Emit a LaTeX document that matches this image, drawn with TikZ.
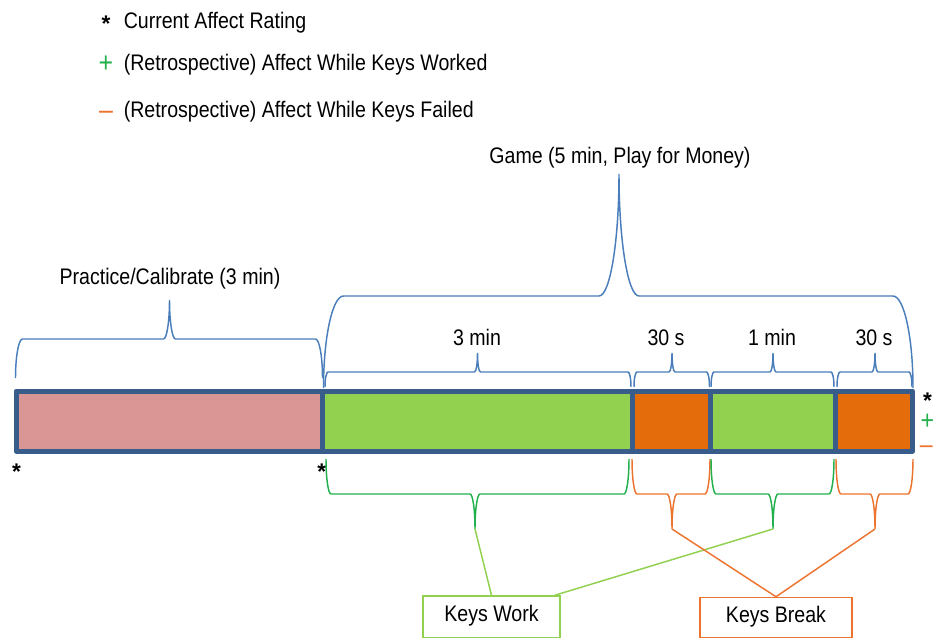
\documentclass[tikz,border=0pt]{standalone}
\usepackage{fontspec}
\setmainfont{Liberation Sans}[FakeStretch=0.87]
\newfontfamily\starfont{Liberation Sans Bold}
\usetikzlibrary{calc}
\definecolor{bracebl}{HTML}{4A7EBB}
\definecolor{barline}{HTML}{385D8A}
\definecolor{pinkc}{HTML}{D99694}
\definecolor{greenc}{HTML}{92D050}
\definecolor{orangec}{HTML}{E46C0A}
\definecolor{grn}{HTML}{22B14C}
\definecolor{org}{HTML}{EC7430}
\newcommand{\mybrace}[9]{%
  \draw[#1] (#2,#5) .. controls (#2,{#5+0.5523*(#6-#5)}) and ({#2+#8*(1-0.5523)},#6) .. ({#2+#8},#6)
   -- ({#4-#9},#6) .. controls ({#4-#9+0.5523*#9},#6) and (#4,{#7+0.5523*(#6-#7)}) .. (#4,#7)
   .. controls (#4,{#7+0.5523*(#6-#7)}) and ({#4+#9-0.5523*#9},#6) .. ({#4+#9},#6)
   -- ({#3-#8},#6) .. controls ({#3-#8+0.5523*#8},#6) and (#3,{#5+0.5523*(#6-#5)}) .. (#3,#5);}
\begin{document}
\begin{tikzpicture}[x=0.75pt,y=-0.75pt,
  txt/.style={font=\fontsize{16.875}{20}\selectfont, inner sep=0pt, anchor=base},
  star/.style={font=\starfont\fontsize{17}{20}\selectfont, inner sep=0pt, anchor=base},
  sym/.style={font=\fontsize{21.5}{24}\selectfont, inner sep=0pt, anchor=base},
  symr/.style={font=\fontsize{20}{22}\selectfont, inner sep=0pt, anchor=base},
  bb/.style={draw=bracebl, line width=1.1pt},
  gb/.style={draw=grn, line width=1.1pt},
  ob/.style={draw=org, line width=1.1pt},
  bar/.style={draw=barline, line width=3.75pt, line join=round},
  conng/.style={draw=greenc, line width=1.1pt},
  conno/.style={draw=org, line width=1.1pt},
  box/.style={font=\fontsize{16.875}{20}\selectfont, line width=1.1pt, inner sep=0pt,
              text height=0.78em, text depth=0pt, fill=white}]
\useasboundingbox (0,0) rectangle (933,639);

% legend
\node[star] (s1) at (106,31.5) {*};
\node[txt, anchor=base west] (l1) at (123.5,28.3) {Current Affect Rating};
\node[sym, text=grn] (s2) at (106,72.5) {+};
\node[txt, anchor=base west] (l2) at (123.5,70) {(Retrospective) Affect While Keys Worked};
\node[sym, text=org] (s3) at (106,119.2) {\textendash};
\node[txt, anchor=base west] (l3) at (123.5,117.3) {(Retrospective) Affect While Keys Failed};

% labels
\node[txt] (game) at (620,163) {Game (5 min, Play for Money)};
\node[txt] (prac) at (170,284) {Practice/Calibrate (3 min)};
\node[txt] (t3m) at (477,345) {3 min};
\node[txt] (t30a) at (666,345) {30 s};
\node[txt] (t1m) at (772,345) {1 min};
\node[txt] (t30b) at (874,345) {30 s};

% braces above
\mybrace{bb}{15.5}{322.5}{169.5}{378}{339}{300}{7}{6}
\mybrace{bb}{323.5}{913}{619}{388}{296}{174}{20}{20}
\mybrace{bb}{325}{631}{477.5}{387}{372}{353}{3}{3}
\mybrace{bb}{634}{709.5}{672}{387}{372}{353}{3}{3}
\mybrace{bb}{711}{834}{773}{387}{372}{353}{3}{3}
\mybrace{bb}{837}{912}{875}{387}{372}{353}{3}{3}

% bar
\fill[pinkc] (16,391) rectangle (322.5,451);
\fill[greenc] (322.5,391) rectangle (632.8,451);
\fill[orangec] (632.8,391) rectangle (710,451);
\fill[greenc] (710,391) rectangle (835,451);
\fill[orangec] (835,391) rectangle (912.5,451);
\draw[bar] (16,391) rectangle (912.5,451);
\draw[bar] (322.5,391) -- (322.5,451);
\draw[bar] (632.8,391) -- (632.8,451);
\draw[bar] (710,391) -- (710,451);
\draw[bar] (835,391) -- (835,451);

% rating marks
\node[star] (r0) at (16.5,479.5) {*};
\node[star] (r1) at (321.7,479.5) {*};
\node[star] (r2) at (927.5,408.5) {*};
\node[symr, text=grn] (r3) at (927.3,429.4) {+};
\node[symr, text=org] (r4) at (926.3,453.6) {\textendash};

% braces below
\mybrace{gb}{326}{629}{475}{459}{494}{529}{5}{5}
\mybrace{ob}{632}{710}{672}{459}{494}{529}{5}{5}
\mybrace{gb}{711}{834}{773}{459}{494}{529}{5}{5}
\mybrace{ob}{836}{913}{875}{459}{494}{529}{5}{5}
\coordinate (gt1) at (475,529);
\coordinate (ot1) at (672,529);
\coordinate (gt2) at (773,529);
\coordinate (ot2) at (875,529);

% boxes
\node[box, draw=greenc, minimum width=102.75pt, minimum height=31.1pt] (kw) at (491.5,616.75) {Keys Work};
\node[box, draw=org, minimum width=114pt, minimum height=30pt] (kb) at (776,617.5) {Keys Break};

% connectors
\draw[conng] (gt1) -- (kw.north);
\draw[conng] (gt2) -- ($(kw.north east)+(-6,0)$);
\draw[conno] (ot1) -- (kb.north);
\draw[conno] (ot2) -- (kb.north);
\end{tikzpicture}
\end{document}
